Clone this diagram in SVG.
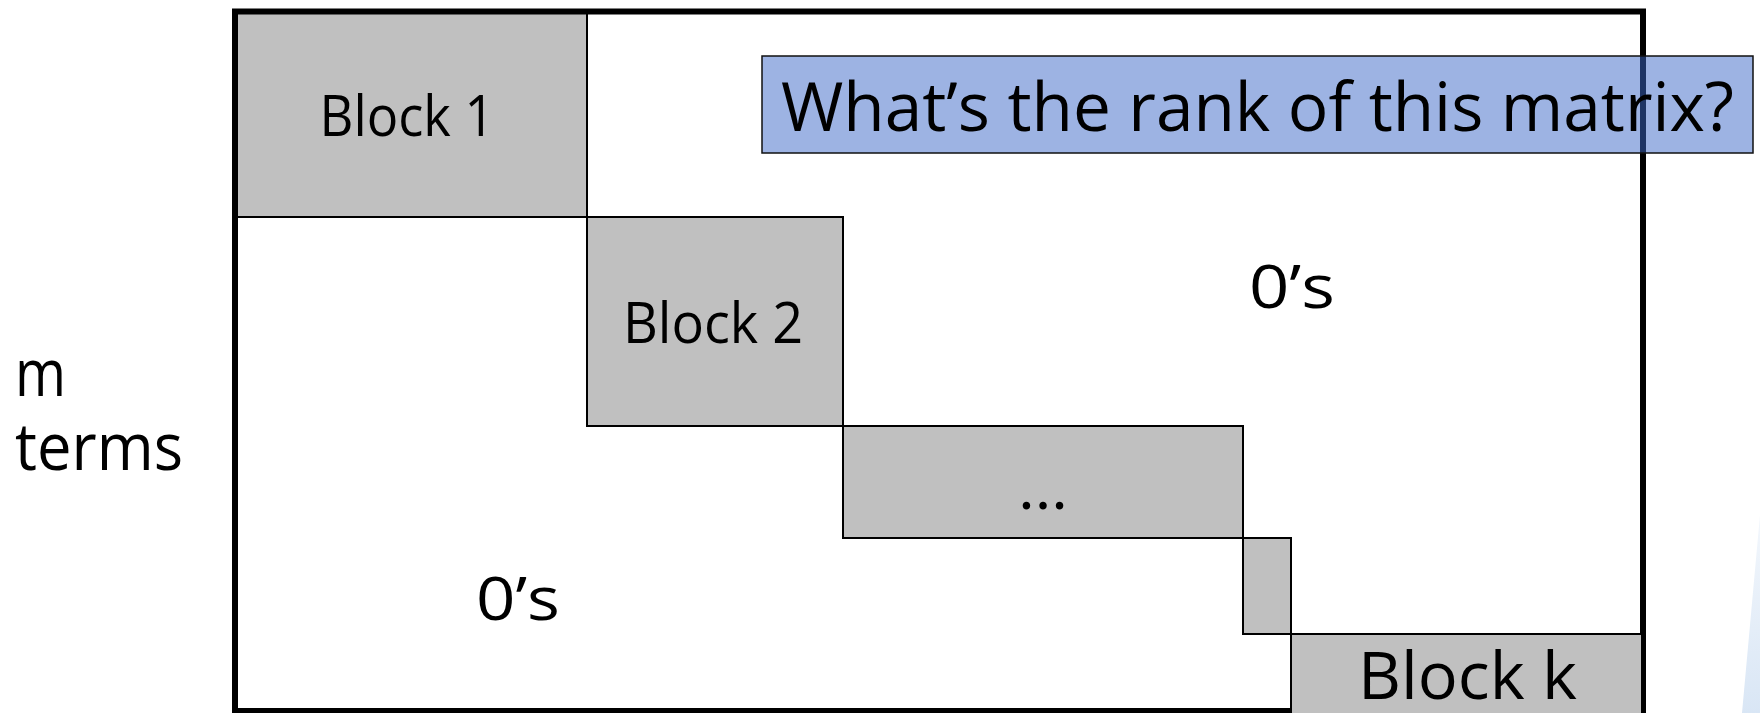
<svg xmlns="http://www.w3.org/2000/svg" width="1760" height="713" viewBox="0 0 1760 713">
  <defs>
    <style>
      .blk { fill: #c0c0c0; stroke: #000; stroke-width: 2; }
      .frame { fill: none; stroke: #000; stroke-width: 6; }
      .lbl { font-family: "Open Sans", "Liberation Sans", sans-serif; fill: #000; }
      .q { fill: #3c68c8; fill-opacity: 0.5; stroke: #111; stroke-width: 1.5; }
    </style>
    <linearGradient id="sliverFill" x1="0" y1="0" x2="0" y2="1">
      <stop offset="0" stop-color="#f3f7fc"/>
      <stop offset="1" stop-color="#d9e6f5"/>
    </linearGradient>
  </defs>

  <rect width="1760" height="713" fill="#fff"/>

  <!-- decorative corner sliver -->
  <polygon points="1760,515 1742,713 1760,713" fill="url(#sliverFill)"/>

  <!-- diagonal blocks -->
  <g id="block1">
    <rect class="blk" x="235" y="11" width="352" height="206"/>
    <text class="lbl" x="407" y="136" font-size="57" text-anchor="middle" textLength="175" lengthAdjust="spacingAndGlyphs">Block 1</text>
  </g>
  <g id="block2">
    <rect class="blk" x="587" y="217" width="256" height="209"/>
    <text class="lbl" x="713" y="343" font-size="56" text-anchor="middle" textLength="180" lengthAdjust="spacingAndGlyphs">Block 2</text>
  </g>
  <g id="block3">
    <rect class="blk" x="843" y="426" width="400" height="112"/>
    <text class="lbl" x="1043" y="509" font-size="60" text-anchor="middle" textLength="50" lengthAdjust="spacingAndGlyphs">…</text>
  </g>
  <g id="block4">
    <rect class="blk" x="1243" y="538" width="48" height="96"/>
  </g>

  <!-- matrix outline -->
  <g id="matrix">
    <rect class="frame" x="235" y="11.5" width="1408" height="699.5"/>
  </g>

  <g id="blockk">
    <rect class="blk" x="1291" y="634" width="351" height="90"/>
    <text class="lbl" x="1467.5" y="699" font-size="66" text-anchor="middle" textLength="219" lengthAdjust="spacingAndGlyphs">Block k</text>
  </g>

  <!-- zero regions -->
  <g id="zeros-upper">
    <text class="lbl" x="1292" y="308" font-size="61" text-anchor="middle" textLength="86" lengthAdjust="spacingAndGlyphs">0’s</text>
  </g>
  <g id="zeros-lower">
    <text class="lbl" x="518" y="620" font-size="61" text-anchor="middle" textLength="84" lengthAdjust="spacingAndGlyphs">0’s</text>
  </g>

  <!-- row label, two lines -->
  <g id="row-label">
    <text class="lbl" font-size="66">
      <tspan x="15" y="396" textLength="51" lengthAdjust="spacingAndGlyphs">m</tspan>
      <tspan x="15" y="470" textLength="168" lengthAdjust="spacingAndGlyphs">terms</tspan>
    </text>
  </g>

  <!-- question callout -->
  <g id="question">
    <rect class="q" x="762" y="56" width="991" height="97"/>
    <text class="lbl" x="781" y="131" font-size="67" textLength="953" lengthAdjust="spacingAndGlyphs">What’s the rank of this matrix?</text>
  </g>

  <g id="connectors"/>
</svg>
